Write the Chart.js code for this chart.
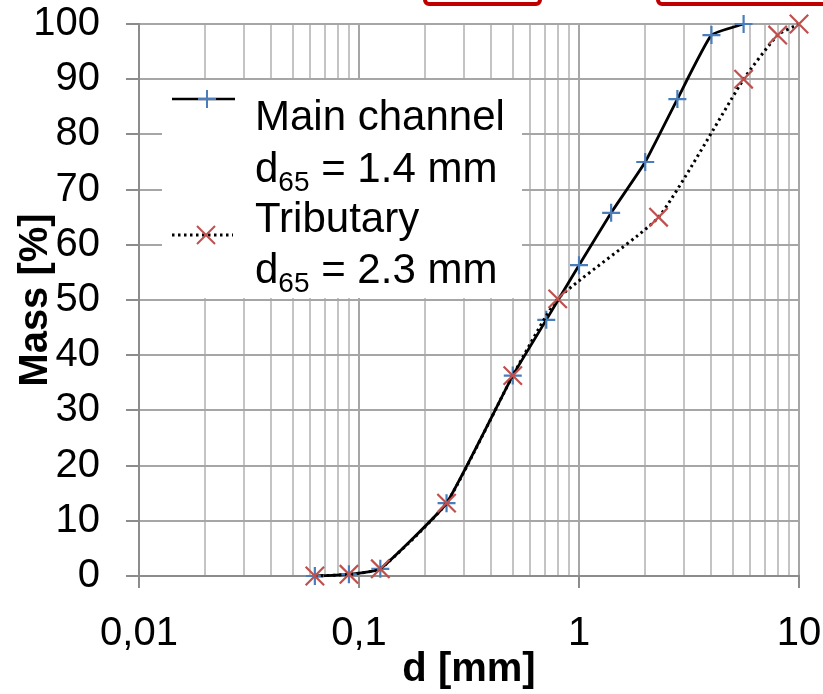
<!DOCTYPE html>
<html lang="en">
<head>
    <meta charset="UTF-8">
    <title>Grain size distribution</title>
    <script src="https://cdn.jsdelivr.net/npm/chart.js"></script>
    <style>
        body { margin: 0; background: #fff; }
        #wrap { width: 823px; height: 694px; }
    </style>
</head>
<body>
    <div id="wrap"><canvas id="myChart" width="823" height="694"></canvas></div>

    <script>
        // sieve sizes (mm) and cumulative mass passing (%)
        const mainD = [0.063, 0.09, 0.125, 0.25, 0.5, 0.71, 1.0, 1.4, 2.0, 2.8, 4.0, 5.6];
        const mainMass = [0, 0.3, 1.3, 13.2, 36.3, 46.4, 56.3, 65.8, 75, 86.4, 98, 100];
        const tribD = [0.063, 0.09, 0.125, 0.25, 0.5, 0.8, 2.3, 5.6, 8.0, 10];
        const tribMass = [0, 0.3, 1.3, 13.2, 36.3, 50.2, 65, 90, 98, 100];

        // x axis: decades get a label, the rest only a grid line
        const xMajor = [0.01, 0.1, 1, 10];
        const xMajorLabels = ['0,01', '0,1', '1', '10'];
        const xTicks = [0.01, 0.02, 0.03, 0.04, 0.05, 0.06, 0.07, 0.08, 0.09,
                        0.1, 0.2, 0.3, 0.4, 0.5, 0.6, 0.7, 0.8, 0.9,
                        1, 2, 3, 4, 5, 6, 7, 8, 9, 10];

        const FONT = '"Liberation Sans", Arial, sans-serif';
        const BLUE = '#4a7ebb';
        const RED = '#c0504d';

        function toPoints(xs, ys) {
            return xs.map((x, i) => ({ x: x, y: ys[i] }));
        }

        // keep the plot area where the reference has it
        function noOverhang(scale) {
            scale.paddingTop = 0;
            scale.paddingBottom = 0;
            scale.paddingLeft = 0;
            scale.paddingRight = 0;
        }

        // white legend box with subscripts, drawn on top of the grid
        const legendBox = {
            id: 'legendBox',
            afterDatasetsDraw(chart) {
                const ctx = chart.ctx;
                ctx.save();
                ctx.fillStyle = '#fff';
                ctx.fillRect(162, 80, 360, 218);

                // main channel sample
                ctx.strokeStyle = '#000';
                ctx.lineWidth = 2.5;
                ctx.beginPath();
                ctx.moveTo(172, 99); ctx.lineTo(235, 99);
                ctx.stroke();
                ctx.strokeStyle = BLUE;
                ctx.lineWidth = 2;
                ctx.beginPath();
                ctx.moveTo(198, 99); ctx.lineTo(216, 99);
                ctx.moveTo(207, 90); ctx.lineTo(207, 108);
                ctx.stroke();

                // tributary sample
                ctx.strokeStyle = '#000';
                ctx.lineWidth = 3;
                ctx.setLineDash([2.5, 3.5]);
                ctx.beginPath();
                ctx.moveTo(172, 235); ctx.lineTo(233, 235);
                ctx.stroke();
                ctx.setLineDash([]);
                ctx.strokeStyle = RED;
                ctx.lineWidth = 2;
                ctx.beginPath();
                ctx.moveTo(197, 226); ctx.lineTo(215, 244);
                ctx.moveTo(215, 226); ctx.lineTo(197, 244);
                ctx.stroke();

                ctx.fillStyle = '#000';
                ctx.textBaseline = 'alphabetic';
                ctx.textAlign = 'left';
                const big = '42px ' + FONT;
                const small = '28px ' + FONT;

                function subLine(rest, y) {
                    let x = 255;
                    ctx.font = big;
                    ctx.fillText('d', x, y);
                    x += ctx.measureText('d').width;
                    ctx.font = small;
                    ctx.fillText('65', x, y + 9);
                    x += ctx.measureText('65').width;
                    ctx.font = big;
                    ctx.fillText(rest, x, y);
                }

                ctx.font = big;
                ctx.fillText('Main channel', 255, 130);
                subLine(' = 1.4 mm', 182);
                ctx.font = big;
                ctx.fillText('Tributary', 255, 232);
                subLine(' = 2.3 mm', 283);
                ctx.restore();
            }
        };

        // the red frames cut off at the top edge of the picture
        const topFrames = {
            id: 'topFrames',
            afterDraw(chart) {
                const ctx = chart.ctx;
                ctx.save();
                ctx.strokeStyle = '#c00000';
                ctx.lineWidth = 4;
                ctx.beginPath();
                ctx.roundRect(425, -20, 115, 24, 4);
                ctx.roundRect(658, -20, 200, 24, 4);
                ctx.stroke();
                ctx.restore();
            }
        };

        const ctx = document.getElementById('myChart').getContext('2d');
        const chart = new Chart(ctx, {
            type: 'line',
            data: {
                datasets: [{
                    label: 'Main channel',
                    data: toPoints(mainD, mainMass),
                    borderColor: '#000',
                    borderWidth: 2.8,
                    tension: 0.12,
                    pointStyle: 'cross',
                    pointRadius: 9,
                    pointBorderWidth: 2.2,
                    pointBorderColor: BLUE,
                    pointBackgroundColor: BLUE,
                    clip: false,
                    order: 1
                }, {
                    label: 'Tributary',
                    data: toPoints(tribD, tribMass),
                    borderColor: '#000',
                    borderWidth: 3,
                    borderDash: [2.5, 3.5],
                    tension: 0.15,
                    pointStyle: 'crossRot',
                    pointRadius: 13,
                    pointBorderWidth: 2.2,
                    pointBorderColor: RED,
                    pointBackgroundColor: RED,
                    clip: false,
                    order: 0
                }]
            },
            options: {
                responsive: false,
                animation: false,
                layout: {
                    padding: { top: 24, right: 24, bottom: 0, left: 0 }
                },
                plugins: {
                    legend: { display: false },
                    tooltip: { enabled: false }
                },
                scales: {
                    x: {
                        type: 'logarithmic',
                        min: 0.01,
                        max: 10,
                        afterBuildTicks: (scale) => {
                            scale.ticks = xTicks.map(v => ({ value: v }));
                        },
                        afterFit: (scale) => {
                            scale.height = 118;
                            noOverhang(scale);
                        },
                        ticks: {
                            autoSkip: false,
                            maxRotation: 0,
                            padding: 22,
                            color: '#000',
                            font: { family: FONT, size: 40 },
                            callback: (value) => {
                                const i = xMajor.indexOf(value);
                                return i >= 0 ? xMajorLabels[i] : '';
                            }
                        },
                        grid: {
                            lineWidth: 2,
                            tickLength: 12,
                            color: (c) => (c.tick && xMajor.includes(c.tick.value)) ? '#a6a6a6' : '#c4c4c4',
                            tickColor: (c) => (c.tick && xMajor.includes(c.tick.value)) ? '#8c8c8c' : 'rgba(0,0,0,0)'
                        },
                        border: { color: '#8c8c8c', width: 2 },
                        title: {
                            display: true,
                            text: 'd [mm]',
                            color: '#000',
                            font: { family: FONT, size: 40, weight: 'bold' },
                            padding: { top: 0, bottom: 0 }
                        }
                    },
                    y: {
                        min: 0,
                        max: 100,
                        afterFit: (scale) => {
                            scale.width = 139;
                            noOverhang(scale);
                        },
                        ticks: {
                            stepSize: 10,
                            padding: 26,
                            color: '#000',
                            font: { family: FONT, size: 40 }
                        },
                        grid: {
                            lineWidth: 2,
                            tickLength: 13,
                            color: '#a6a6a6',
                            tickColor: '#8c8c8c'
                        },
                        border: { color: '#8c8c8c', width: 2 },
                        title: {
                            display: true,
                            text: 'Mass [%]',
                            color: '#000',
                            font: { family: FONT, size: 40, weight: 'bold' },
                            padding: { top: 12, bottom: 0 }
                        }
                    }
                }
            },
            plugins: [legendBox, topFrames]
        });
    </script>
</body>
</html>
